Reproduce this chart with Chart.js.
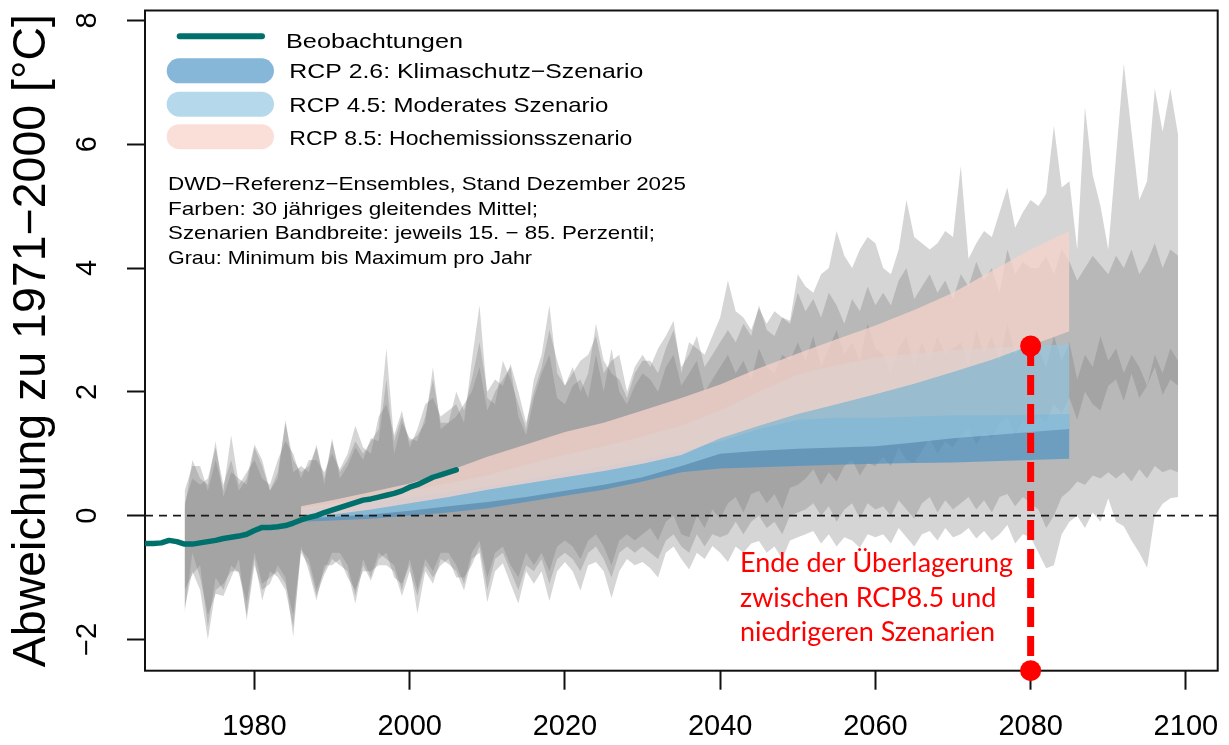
<!DOCTYPE html>
<html>
<head>
<meta charset="utf-8">
<script src="https://cdn.jsdelivr.net/npm/chart.js@4.4.1/dist/chart.umd.min.js"></script>
<style>
  html, body { margin: 0; padding: 0; background: #ffffff; }
  #wrap { width: 1229px; height: 745px; }
</style>
</head>
<body>
<div id="wrap"><canvas id="c" width="1229" height="745"></canvas></div>
<script>
// ---------------- axis ranges and ticks ----------------
const xAxisMin = 1965.9, xAxisMax = 2104.1;
const yAxisMin = -2.505, yAxisMax = 8.16;
const xTickValues = [1980, 2000, 2020, 2040, 2060, 2080, 2100];
const yTickValues = [-2, 0, 2, 4, 6, 8];
const yTitle = 'Abweichung zu 1971\u22122000 [\u00B0C]';

// ---------------- observations (30-year running mean) ----------------
const obsYears = Array.from({ length: 41 }, (_, i) => 1966 + i);
const obsValues = [
  -0.45, -0.45, -0.44, -0.40, -0.42, -0.46, -0.46, -0.44, -0.42, -0.40,
  -0.37, -0.35, -0.33, -0.30, -0.24, -0.19, -0.19, -0.18, -0.16, -0.12,
  -0.07, -0.03, 0.00, 0.05, 0.09, 0.13, 0.17, 0.21, 0.25, 0.27,
  0.30, 0.33, 0.36, 0.40, 0.46, 0.50, 0.56, 0.62, 0.66, 0.70,
  0.74
];

// ---------------- scenario bands (15.-85. percentile of 30-year mean) ----------------
const bandYears = [1986, 1990, 1995, 2000, 2005, 2010, 2015, 2020, 2025, 2030, 2035,
                   2040, 2045, 2050, 2055, 2060, 2065, 2070, 2075, 2080, 2085];
const rcp26Low  = [-0.10, -0.08, -0.05, 0.00, 0.05, 0.12, 0.22, 0.32, 0.42, 0.55, 0.70,
                   0.76, 0.78, 0.80, 0.82, 0.84, 0.85, 0.86, 0.88, 0.90, 0.92];
const rcp26High = [0.10, 0.15, 0.22, 0.30, 0.38, 0.48, 0.58, 0.70, 0.80, 0.92, 1.05,
                   1.20, 1.40, 1.55, 1.58, 1.58, 1.60, 1.62, 1.62, 1.63, 1.64];
const rcp45Low  = [-0.05, -0.02, 0.02, 0.08, 0.15, 0.22, 0.30, 0.40, 0.50, 0.62, 0.80,
                   1.00, 1.05, 1.08, 1.10, 1.12, 1.18, 1.25, 1.30, 1.35, 1.40];
const rcp45High = [0.12, 0.20, 0.30, 0.40, 0.52, 0.65, 0.82, 0.98, 1.12, 1.28, 1.45,
                   1.70, 2.00, 2.28, 2.43, 2.55, 2.62, 2.67, 2.71, 2.74, 2.77];
const rcp85Low  = [-0.05, 0.02, 0.10, 0.20, 0.30, 0.42, 0.52, 0.62, 0.72, 0.84, 0.98,
                   1.25, 1.45, 1.64, 1.80, 1.96, 2.13, 2.32, 2.52, 2.75, 2.98];
const rcp85High = [0.15, 0.25, 0.38, 0.52, 0.72, 0.95, 1.15, 1.35, 1.50, 1.70, 1.90,
                   2.12, 2.38, 2.62, 2.85, 3.07, 3.32, 3.60, 3.95, 4.30, 4.60];

// ---------------- grey bands: yearly minimum / maximum per scenario ----------------
const greyYears = Array.from({ length: 129 }, (_, i) => 1971 + i); // 1971..2099
const greyMax26 = [
  0.1, 0.9, 0.6, 0.5, 1.2, 0.3, 0.7, 0.6, 0.5, 1.1,
  0.8, 0.4, 0.7, 1.5, 0.9, 0.7, 0.8, 1.1, 0.6, 1.2,
  0.7, 0.9, 1.2, 1.0, 1.2, 1.4, 2.7, 1.2, 1.6, 1.2,
  1.3, 1.5, 2.4, 1.4, 1.5, 1.6, 1.8, 2.0, 2.4, 1.7,
  2.0, 2.2, 2.4, 1.6, 1.3, 1.9, 2.3, 2.6, 1.9, 1.8,
  2.1, 2.2, 1.9, 2.6, 2.0, 2.7, 2.0, 1.8, 2.1, 2.3,
  2.2, 2.0, 2.4, 2.6, 2.1, 2.3, 2.5, 2.0, 2.2, 2.4,
  2.6, 2.3, 2.5, 2.2, 2.7, 2.4, 2.3, 2.6, 2.5, 2.8,
  2.5, 2.9, 2.4, 2.7, 3.0, 2.6, 2.8, 2.5, 3.1, 2.7,
  2.6, 2.3, 2.7, 2.9, 2.4, 2.8, 2.5, 2.9, 2.6, 2.7,
  2.8, 2.4, 3.0, 2.6, 2.9, 2.5, 3.1, 2.6, 2.8, 2.7,
  2.7, 2.4, 2.9, 2.5, 2.8, 2.2, 2.6, 2.4, 2.9, 2.5,
  2.7, 2.3, 2.6, 2.4, 2.1, 2.6, 2.3, 2.7, 2.5
];
const greyMin26 = [
  -1.5, -0.9, -1.2, -2.0, -1.2, -1.1, -0.9, -0.9, -1.6, -0.7,
  -1.37, -0.9, -0.99, -1.2, -1.8, -0.6, -0.8, -1.3, -0.95, -0.7,
  -0.8, -0.9, -1.42, -0.8, -1.05, -0.7, -0.6, -1.0, -1.1, -0.8,
  -1.58, -0.9, -1.1, -0.7, -0.78, -0.9, -1.21, -0.7, -0.6, -1.4,
  -0.9, -0.77, -1.1, -1.42, -0.9, -1.1, -0.9, -1.38, -0.9, -0.75,
  -0.9, -1.21, -0.8, -0.75, -0.9, -1.33, -0.9, -0.7, -0.8, -0.75,
  -0.85, -1.0, -0.6, -0.5, -0.7, -0.87, -0.6, -0.7, -0.49, -0.6,
  -0.75, -0.5, -0.6, -0.45, -0.41, -0.6, -0.5, -0.7, -0.4, -0.35,
  -0.3, -0.25, -0.45, -0.3, -0.5, -0.35, -0.4, -0.52, -0.3, -0.35,
  -0.3, -0.45, -0.2, -0.35, -0.5, -0.3, -0.25, -0.4, -0.2, -0.35,
  -0.3, -0.2, -0.37, -0.25, -0.4, -0.3, -0.15, -0.45, -0.3, -0.35,
  -0.6, -0.85, -0.8, -0.3, -0.1, 0.0, -0.2, 0.05, -0.1, 0.28,
  -0.1, -0.17, -0.4, -0.6, -0.84, 0.0, 0.19, 0.28, 0.3
];
const greyMax45 = [
  0.4, 0.8, 0.8, 0.4, 0.9, 0.4, 1.3, 0.5, 0.7, 0.9,
  0.6, 0.5, 0.9, 1.2, 1.0, 0.6, 0.9, 0.9, 0.7, 1.0,
  0.75, 1.0, 1.45, 1.1, 1.0, 1.6, 1.8, 1.3, 1.7, 1.1,
  1.4, 1.8, 1.9, 1.6, 1.7, 1.8, 1.5, 2.5, 3.4, 1.9,
  1.8, 2.5, 2.2, 1.8, 1.4, 2.2, 2.6, 3.4, 2.3, 2.1,
  2.4, 2.0, 2.3, 3.1, 2.5, 2.3, 2.2, 1.9, 2.3, 2.5,
  2.5, 2.3, 2.7, 3.0, 2.4, 2.6, 2.9, 2.4, 2.6, 2.8,
  3.0, 2.8, 3.1, 2.9, 3.4, 3.0, 2.9, 3.2, 3.1, 3.6,
  3.3, 3.5, 3.2, 3.6, 3.4, 3.1, 3.5, 3.3, 3.7, 3.4,
  3.6, 3.4, 3.8, 4.0, 3.5, 3.7, 3.9, 3.6, 3.8, 3.5,
  3.9, 3.7, 4.1, 3.8, 4.0, 3.6, 4.3, 3.9, 4.1, 4.0,
  4.0, 4.2, 3.9, 4.3, 4.1, 3.8, 4.0, 4.2, 4.05, 3.9,
  4.2, 4.0, 4.3, 3.9, 4.1, 4.4, 4.0, 4.3, 4.2
];
const greyMin45 = [
  -1.58, -0.6, -1.0, -1.6, -1.26, -1.3, -1.0, -0.7, -1.69, -0.8,
  -1.2, -1.1, -0.8, -1.0, -1.96, -0.5, -0.9, -1.37, -0.8, -0.8,
  -0.7, -1.0, -1.2, -0.9, -0.9, -0.8, -0.8, -0.9, -1.3, -0.9,
  -1.3, -0.8, -1.0, -0.8, -0.7, -1.0, -1.0, -0.8, -0.5, -1.2,
  -0.7, -0.6, -0.9, -1.2, -0.8, -0.9, -0.7, -1.1, -0.7, -0.6,
  -0.7, -0.9, -0.6, -0.5, -0.7, -1.0, -0.6, -0.5, -0.6, -0.5,
  -0.6, -0.7, -0.4, -0.3, -0.5, -0.6, -0.3, -0.5, -0.3, -0.35,
  -0.3, -0.1, -0.3, -0.1, 0.0, -0.2, -0.1, -0.3, 0.0, 0.05,
  0.1, 0.2, 0.0, 0.15, -0.1, 0.1, 0.2, -0.05, 0.2, 0.1,
  0.15, 0.0, 0.25, 0.1, -0.05, 0.2, 0.3, 0.05, 0.25, 0.1,
  0.2, 0.3, 0.1, 0.25, 0.05, 0.3, 0.35, 0.15, 0.3, 0.2,
  0.1, -0.2, 0.0, 0.3, 0.4, 0.55, 0.5, 0.65, 0.6, 0.7,
  0.6, 0.7, 0.55, 0.75, 0.6, 0.8, 0.7, 0.75, 0.7
];
const greyMax85 = [
  0.2, 0.6, 0.5, 0.6, 1.1, 0.5, 0.9, 0.4, 0.6, 1.15,
  0.9, 0.4, 0.6, 1.55, 0.7, 0.8, 0.7, 1.15, 0.5, 1.25,
  0.6, 0.8, 1.1, 0.9, 1.25, 1.2, 2.2, 1.0, 1.5, 1.25,
  1.2, 1.6, 2.2, 1.5, 1.5, 2.0, 1.7, 2.2, 2.8, 2.0,
  2.2, 2.1, 2.45, 2.0, 1.5, 2.0, 2.4, 3.0, 2.5, 2.1,
  2.3, 2.5, 2.6, 2.9, 2.3, 2.5, 2.6, 2.0, 2.4, 2.6,
  2.4, 2.7, 2.9, 3.15, 2.3, 2.8, 2.7, 2.6, 2.9, 3.2,
  3.8, 3.3, 3.2, 3.0, 3.35, 3.1, 3.3, 3.2, 3.15, 3.9,
  3.7, 3.6, 3.9, 4.0, 4.6, 4.2, 4.0, 4.3, 4.5, 4.4,
  4.0, 3.9, 4.3, 5.1, 4.5, 4.4, 4.3, 4.4, 4.6, 4.5,
  5.65, 4.15, 4.4, 4.6, 4.5, 4.9, 5.3, 4.65, 4.9, 5.1,
  5.0, 5.2, 6.3, 5.3, 5.4, 4.3, 6.6, 5.5, 5.0, 4.3,
  5.8, 7.3, 6.2, 5.1, 5.4, 6.9, 6.2, 6.9, 6.15
];
const greyMin85 = [
  -1.2, -0.95, -0.8, -1.8, -1.0, -1.2, -0.8, -0.93, -1.4, -0.6,
  -1.1, -1.0, -0.9, -1.1, -1.6, -0.55, -0.7, -1.2, -0.9, -0.6,
  -0.6, -0.8, -1.3, -0.7, -1.0, -0.6, -0.7, -0.8, -1.2, -0.7,
  -1.2, -0.7, -0.9, -0.6, -0.6, -0.8, -1.1, -0.6, -0.4, -1.0,
  -0.6, -0.5, -0.8, -1.0, -0.6, -0.8, -0.6, -0.9, -0.5, -0.4,
  -0.5, -0.7, -0.4, -0.3, -0.5, -0.8, -0.4, -0.3, -0.4, -0.3,
  -0.2, -0.4, -0.1, 0.0, -0.3, -0.35, 0.0, -0.2, 0.1, -0.05,
  0.2, 0.3, 0.05, 0.35, 0.4, 0.2, 0.35, 0.1, 0.45, 0.5,
  0.6, 0.75, 0.5, 0.7, 0.55, 0.8, 0.9, 0.65, 0.85, 0.8,
  0.95, 0.8, 1.1, 0.9, 0.85, 1.05, 1.25, 1.0, 1.2, 1.1,
  1.3, 1.4, 1.15, 1.35, 1.25, 1.5, 1.6, 1.3, 1.55, 1.45,
  1.6, 1.5, 1.8, 1.65, 1.9, 1.55, 2.0, 1.8, 1.7, 2.1,
  2.2, 1.85, 2.3, 1.9, 2.1, 2.4, 1.95, 2.2, 2.1
];

// ---------------- annotation ----------------
const overlapEndYear = 2080;
const overlapEndValue = 2.74;
const annotationLines = ['Ende der \u00DCberlagerung', 'zwischen RCP8.5 und', 'niedrigeren Szenarien'];

// ---------------- legend / notes text ----------------
const legendLabels = ['Beobachtungen', 'RCP 2.6: Klimaschutz\u2212Szenario',
                      'RCP 4.5: Moderates Szenario', 'RCP 8.5: Hochemissionsszenario'];
const noteLines = ['DWD\u2212Referenz\u2212Ensembles, Stand Dezember 2025',
                   'Farben: 30 j\u00E4hriges gleitendes Mittel;',
                   'Szenarien Bandbreite: jeweils 15. \u2212 85. Perzentil;',
                   'Grau: Minimum bis Maximum pro Jahr'];

// sanity check of array lengths
[greyMax26, greyMin26, greyMax45, greyMin45, greyMax85, greyMin85].forEach((a, i) => {
  if (a.length !== greyYears.length) throw new Error('grey array ' + i + ' has ' + a.length);
});
[rcp26Low, rcp26High, rcp45Low, rcp45High, rcp85Low, rcp85High].forEach((a, i) => {
  if (a.length !== bandYears.length) throw new Error('band array ' + i + ' has ' + a.length);
});
if (obsValues.length !== obsYears.length) throw new Error('obs length');

// ---------------- colours ----------------
const obsColor = '#00706c';
const col26 = 'rgba(70,145,195,0.65)';
const col45 = 'rgba(150,200,225,0.70)';
const col85 = 'rgba(248,212,203,0.75)';
const colGrey = 'rgba(120,120,120,0.31)';
const NONE = 'rgba(0,0,0,0)';
const RED = '#ff0000';

const toXY = (xs, ys) => ys.map((y, i) => ({ x: xs[i], y: y }));

const datasets = [];
datasets.push({ // red marker line
  label: 'Ende der \u00DCberlagerung',
  data: [{ x: overlapEndYear, y: overlapEndValue }, { x: overlapEndYear, y: yAxisMin }],
  borderColor: RED, borderWidth: 7, borderDash: [20, 9], borderCapStyle: 'butt',
  pointRadius: 10.5, pointBackgroundColor: RED, pointBorderWidth: 0, pointBorderColor: RED,
  fill: false, clip: false, order: 0
});
datasets.push({ // observations
  label: legendLabels[0], data: toXY(obsYears, obsValues),
  borderColor: obsColor, borderWidth: 5.5, borderCapStyle: 'round', borderJoinStyle: 'round',
  pointRadius: 0, fill: false, order: 1
});
datasets.push({ // zero line
  label: 'null', data: [{ x: xAxisMin, y: 0 }, { x: xAxisMax, y: 0 }],
  borderColor: '#1a1a1a', borderWidth: 1.8, borderDash: [8, 6], pointRadius: 0, fill: false, order: 2
});
function addBand(label, xs, hi, lo, color, order) {
  const idx = datasets.length;
  datasets.push({ label: label, data: toXY(xs, hi), fill: idx + 1, backgroundColor: color,
                  borderColor: NONE, borderWidth: 0, pointRadius: 0, order: order });
  datasets.push({ label: label + ' (unten)', data: toXY(xs, lo), fill: false,
                  borderColor: NONE, borderWidth: 0, pointRadius: 0, order: order });
}
addBand(legendLabels[3], bandYears, rcp85High, rcp85Low, col85, 3);
addBand(legendLabels[2], bandYears, rcp45High, rcp45Low, col45, 4);
addBand(legendLabels[1], bandYears, rcp26High, rcp26Low, col26, 5);
addBand('Grau RCP8.5', greyYears, greyMax85, greyMin85, colGrey, 6);
addBand('Grau RCP4.5', greyYears, greyMax45, greyMin45, colGrey, 7);
addBand('Grau RCP2.6', greyYears, greyMax26, greyMin26, colGrey, 8);

const FONT = "'Liberation Sans', Arial, Helvetica, sans-serif";
Chart.defaults.font.family = FONT;
Chart.defaults.color = '#000';

// draw text, optionally stretched horizontally so it spans targetWidth
function fitText(ctx, text, x, y, size, targetWidth, family, color) {
  ctx.save();
  ctx.font = size + 'px ' + family;
  ctx.fillStyle = color;
  ctx.textAlign = 'left';
  ctx.textBaseline = 'alphabetic';
  const sx = targetWidth ? targetWidth / ctx.measureText(text).width : 1;
  ctx.translate(x, y);
  ctx.scale(sx, 1);
  ctx.fillText(text, 0, 0);
  ctx.restore();
}

const boxPlugin = {
  id: 'plotBox',
  beforeDatasetsDraw(chart) {
    const { ctx, chartArea: a } = chart;
    ctx.save();
    ctx.strokeStyle = '#111';
    ctx.lineWidth = 2;
    ctx.strokeRect(a.left, a.top, a.right - a.left, a.bottom - a.top);
    ctx.restore();
  }
};

const decorPlugin = {
  id: 'decor',
  afterDraw(chart) {
    const ctx = chart.ctx;
    ctx.save();
    ctx.lineCap = 'round';
    ctx.strokeStyle = obsColor;
    ctx.lineWidth = 6;
    ctx.beginPath(); ctx.moveTo(179.7, 36.3); ctx.lineTo(262, 36.3); ctx.stroke();
    const swatch = [[col26, 70.8], [col45, 104.2], [col85, 136.7]];
    swatch.forEach(([c, y]) => {
      ctx.strokeStyle = c; ctx.lineWidth = 25;
      ctx.beginPath(); ctx.moveTo(179.2, y); ctx.lineTo(261.5, y); ctx.stroke();
    });
    ctx.restore();
    const legX = [286, 289.3, 289.3, 289.3];
    const legBase = [47.5, 78.3, 111.7, 144.5];
    const legWidth = [177, 354, 319, 343];
    legendLabels.forEach((t, i) => fitText(ctx, t, legX[i], legBase[i], 21, legWidth[i], FONT, '#000'));
    const noteBase = [190, 215, 239.3, 263.5];
    const noteWidth = [518, 370, 487, 364];
    noteLines.forEach((t, i) => fitText(ctx, t, 168, noteBase[i], 19, noteWidth[i], FONT, '#000'));
    ctx.save();
    ctx.font = '28px Lato, "Open Sans", sans-serif';
    const size = 28 * 273 / ctx.measureText(annotationLines[0]).width;
    ctx.restore();
    const annBase = [572, 607, 641];
    annotationLines.forEach((t, i) => fitText(ctx, t, 740, annBase[i], size.toFixed(2), 0, 'Lato, "Open Sans", sans-serif', RED));
  }
};

new Chart(document.getElementById('c'), {
  type: 'line',
  data: { datasets: datasets },
  options: {
    responsive: false,
    animation: false,
    devicePixelRatio: 1,
    layout: { padding: { left: 0, top: 8, right: 11.3, bottom: 0 } },
    plugins: { legend: { display: false }, tooltip: { enabled: false } },
    elements: { line: { tension: 0 }, point: { radius: 0 } },
    scales: {
      x: {
        type: 'linear', min: xAxisMin, max: xAxisMax,
        afterBuildTicks: s => { s.ticks = xTickValues.map(v => ({ value: v })); },
        afterFit: s => { s.height = 74.3; s.paddingLeft = 0; s.paddingRight = 0; },
        grid: { display: true, drawOnChartArea: false, drawTicks: true, tickLength: 19, tickWidth: 2, tickColor: '#111' },
        border: { display: false },
        ticks: { autoSkip: false, maxRotation: 0, minRotation: 0, padding: 19.5, color: '#000',
                 font: { size: 29 }, callback: v => String(v) }
      },
      y: {
        type: 'linear', min: yAxisMin, max: yAxisMax,
        afterBuildTicks: s => { s.ticks = yTickValues.map(v => ({ value: v })); },
        afterFit: s => { s.width = 145; s.paddingTop = 0; s.paddingBottom = 0; },
        grid: { display: true, drawOnChartArea: false, drawTicks: true, tickLength: 18, tickWidth: 2, tickColor: '#111' },
        border: { display: false },
        ticks: { autoSkip: false, minRotation: 90, maxRotation: 90, crossAlign: 'center', padding: 22,
                 color: '#000', font: { size: 29 },
                 callback: v => (v < 0 ? '\u2212' + Math.abs(v) : String(v)) },
        title: { display: true, text: yTitle, color: '#000', font: { size: 46.5 }, padding: { top: 4.3, bottom: 0 } }
      }
    }
  },
  plugins: [boxPlugin, decorPlugin]
});
</script>
</body>
</html>
